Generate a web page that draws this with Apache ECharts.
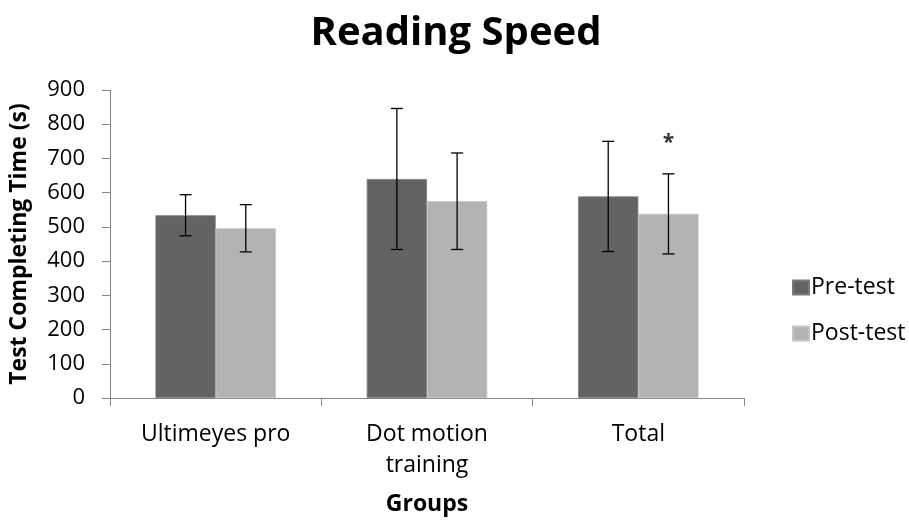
<!DOCTYPE html>
<html>
<head>
<meta charset="utf-8">
<script src="https://cdn.jsdelivr.net/npm/echarts@6/dist/echarts.min.js"></script>
<style>html,body{margin:0;padding:0;background:#fff}#c{width:909px;height:525px}</style>
</head>
<body>
<div id="c"></div>
<script>
var categories = ['Ultimeyes pro', 'Dot motion\ntraining', 'Total'];
var seriesNames = ['Pre-test', 'Post-test'];
var preValues = [534, 640, 589];
var postValues = [496, 575, 538];
var preErrors = [60, 206, 161];
var postErrors = [69, 141, 117];
var postMarks = ['', '', '*'];
var yTicks = [0, 900, 100];

var chart = echarts.init(document.getElementById('c'));
var FONT = 'Open Sans';
var BARW = 0.285;

function errSeries(vals, errs, side, marks) {
  return {
    type: 'custom',
    silent: true,
    z: 10,
    data: vals.map(function (v, i) { return [i, v, errs[i]]; }),
    renderItem: function (params, api) {
      var i = api.value(0), v = api.value(1), e = api.value(2);
      var bw = api.size([1, 0])[0] * BARW;
      var c = api.coord([i, v]);
      var x = c[0] + side * bw / 2;
      var top = api.coord([i, v + e])[1];
      var bot = api.coord([i, v - e])[1];
      var cap = 6;
      var st = { stroke: '#000', lineWidth: 1.3 };
      var children = [
        { type: 'line', shape: { x1: x, y1: top, x2: x, y2: bot }, style: st },
        { type: 'line', shape: { x1: x - cap, y1: top, x2: x + cap, y2: top }, style: st },
        { type: 'line', shape: { x1: x - cap, y1: bot, x2: x + cap, y2: bot }, style: st }
      ];
      if (marks && marks[params.dataIndex]) {
        children.push({ type: 'text', style: { text: marks[params.dataIndex], x: x, y: top - 31, align: 'center', verticalAlign: 'middle', font: 'bold 21px ' + FONT, fill: '#333' } });
      }
      return { type: 'group', children: children };
    }
  };
}

chart.setOption({
  animation: false,
  backgroundColor: '#fff',
  title: {
    text: 'Reading Speed', left: 451, top: 9, textAlign: 'center',
    textStyle: { fontFamily: FONT, fontWeight: 'bold', fontSize: 40, color: '#000' }
  },
  legend: {
    orient: 'vertical', left: 787, top: 271, itemGap: 23, itemWidth: 16, itemHeight: 14,
    icon: 'rect', data: seriesNames,
    textStyle: { fontFamily: FONT, fontSize: 23, color: '#000', padding: [0, 0, 0, -3] }
  },
  grid: { left: 110, right: 165, top: 90, bottom: 127 },
  xAxis: {
    type: 'category', data: categories,
    name: 'Groups', nameLocation: 'middle', nameGap: 95,
    nameTextStyle: { fontFamily: FONT, fontWeight: 'bold', fontSize: 23, color: '#000' },
    axisLine: { lineStyle: { color: '#868686', width: 1 } },
    axisTick: { show: true, alignWithLabel: false, length: 8, lineStyle: { color: '#868686' } },
    axisLabel: { fontFamily: FONT, fontSize: 23, color: '#000', margin: 21, lineHeight: 31 }
  },
  yAxis: {
    type: 'value', min: yTicks[0], max: yTicks[1], interval: yTicks[2],
    name: 'Test Completing Time (s)', nameLocation: 'middle', nameGap: 79, nameRotate: 90,
    nameTextStyle: { fontFamily: FONT, fontWeight: 'bold', fontSize: 23, color: '#000' },
    axisLine: { show: true, lineStyle: { color: '#868686', width: 1 } },
    axisTick: { show: true, length: 8, lineStyle: { color: '#868686' } },
    splitLine: { show: false },
    axisLabel: { fontFamily: FONT, fontSize: 22, color: '#000', margin: 25 }
  },
  series: [
    { name: seriesNames[0], type: 'bar', data: preValues, barWidth: (BARW * 100) + '%', barGap: '0%',
      itemStyle: { color: '#636363', borderColor: '#7a7a7a', borderWidth: 0.8 } },
    { name: seriesNames[1], type: 'bar', data: postValues, barWidth: (BARW * 100) + '%', barGap: '0%',
      itemStyle: { color: '#b3b3b3', borderColor: '#c4c4c4', borderWidth: 0.8 } },
    errSeries(preValues, preErrors, -1, null),
    errSeries(postValues, postErrors, 1, postMarks)
  ]
});
</script>
</body>
</html>
